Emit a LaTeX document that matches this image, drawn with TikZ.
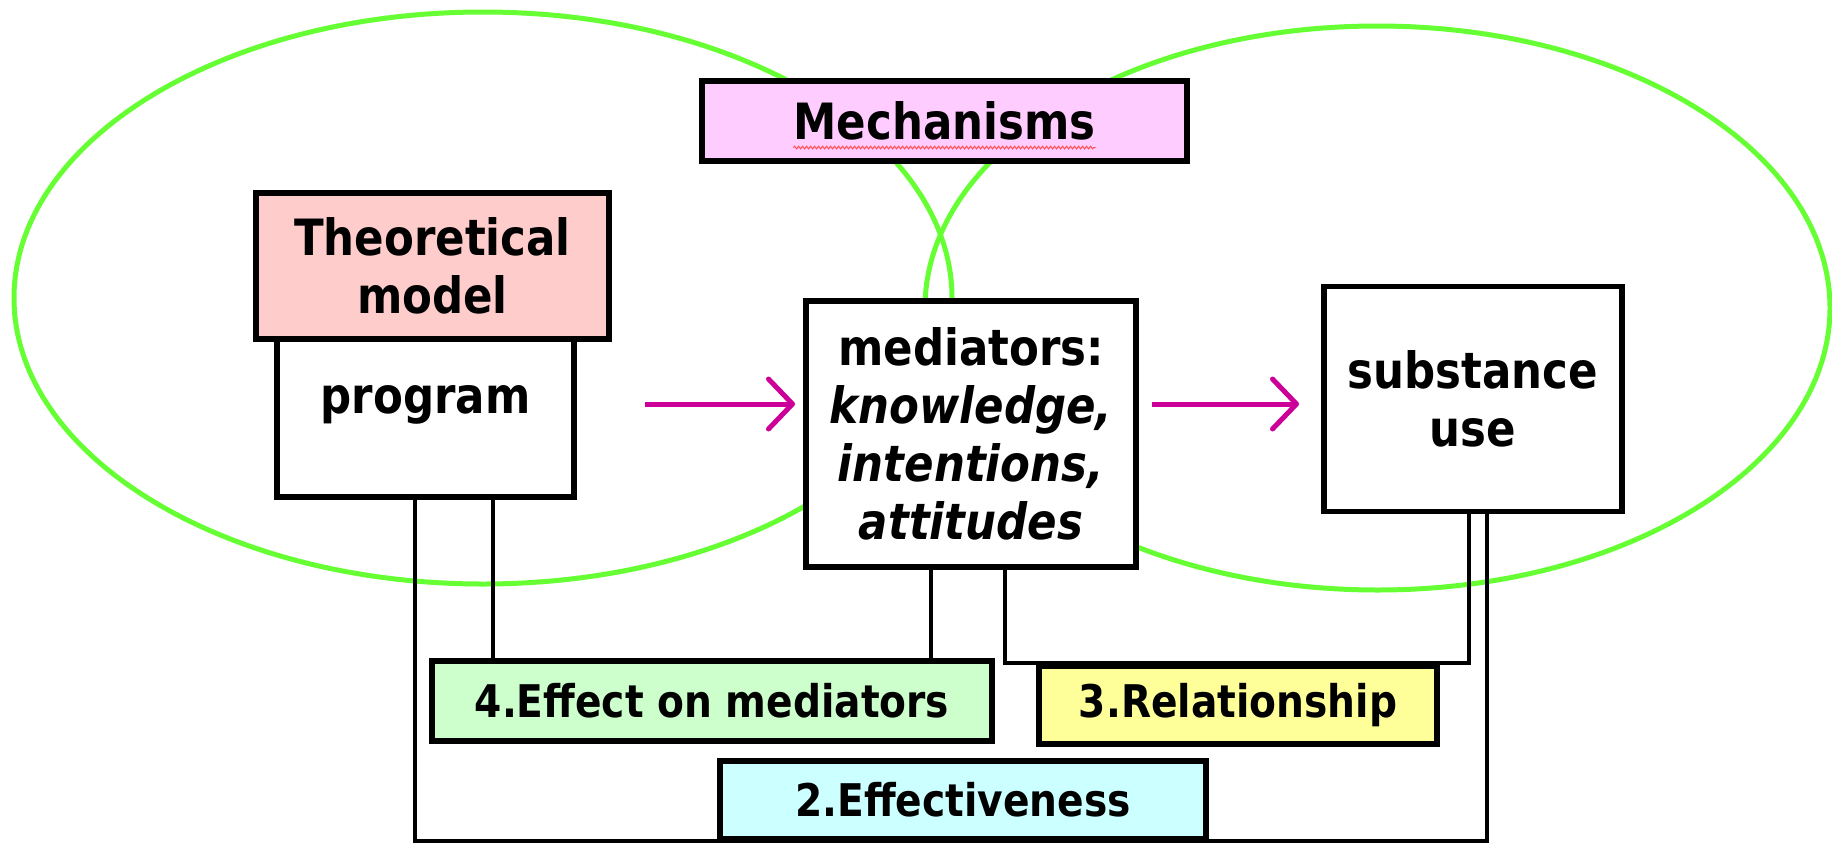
\documentclass[tikz,border=0pt]{standalone}
\usepackage{fontspec}
\setmainfont{DejaVu Sans}[FakeStretch=0.87]
\usetikzlibrary{arrows.meta,decorations.pathmorphing}
\definecolor{ellgreen}{HTML}{66FF33}
\definecolor{arrmag}{HTML}{CC0099}
\definecolor{mechpink}{HTML}{FFCCFF}
\definecolor{theopink}{HTML}{FFCCCC}
\definecolor{effgreen}{HTML}{CCFFCC}
\definecolor{relyellow}{HTML}{FFFF99}
\definecolor{effcyan}{HTML}{CCFFFF}
\tikzset{
  boxa/.style={draw=black, line width=5.2pt, fill=white, inner sep=0pt, font=\fontsize{50}{58}\selectfont\bfseries, align=center},
  lab/.style={boxa, font=\fontsize{45}{52}\selectfont\bfseries},
  txt/.style={inner sep=0pt, font=\fontsize{50}{58}\selectfont\bfseries, align=center},
  conn/.style={draw=black, line width=3.5pt},
  flow/.style={draw=arrmag, line width=5pt, -{Straight Barb[length=24pt,width=50pt,round]}},
  ell/.style={draw=ellgreen, line width=5pt}
}
\begin{document}
\begin{tikzpicture}[x=1pt,y=-1pt]
\useasboundingbox (0,0) rectangle (1832,847);
% ellipses
\draw[ell] (483,298) ellipse [x radius=469, y radius=286];
\draw[ell] (1377.5,308) ellipse [x radius=452.5, y radius=282];
% boxes
\node[boxa, fill=mechpink, minimum width=485pt, minimum height=80pt] (mech) at (944.5,121) {};
\node[txt] (mechtxt) at (944.5,121) {Mechanisms};
\draw[red!70, line width=1pt, decorate, decoration={snake, amplitude=1.3pt, segment length=4pt}] ([yshift=-7pt]mechtxt.south west) -- ([yshift=-7pt]mechtxt.south east);
\node[boxa, minimum width=297pt, minimum height=158pt] (prog) at (425.5,418) {};
\node[txt] (progtxt) at (425.5,405) {program};
\node[boxa, fill=theopink, minimum width=353pt, minimum height=146pt] (theo) at (432.5,266) {Theoretical\\model};
\node[boxa, minimum width=330pt, minimum height=266pt] (med) at (971,434) {mediators:\\\itshape knowledge,\\\itshape intentions,\\\itshape attitudes};
\node[boxa, minimum width=298pt, minimum height=225pt] (subst) at (1473,399) {substance\\use};
\node[lab, fill=effgreen, minimum width=560pt, minimum height=80pt] (eff) at (712,701) {4.Effect on mediators};
\node[lab, fill=relyellow, minimum width=398pt, minimum height=78pt] (rel) at (1238,705) {3.Relationship};
\node[lab, fill=effcyan, minimum width=486pt, minimum height=78pt] (effv) at (963,800) {2.Effectiveness};
% flow arrows
\coordinate (a1s) at (645,404);
\coordinate (a1e) at (795,404);
\coordinate (a2s) at (1152,404);
\coordinate (a2e) at (1299,404);
\draw[flow] (a1s) -- (a1e);
\draw[flow] (a2s) -- (a2e);
% connectors
\coordinate (bot) at (0,841);
\coordinate (relline) at (0,663);
\draw[conn] ([xshift=-10.5pt]prog.south) -- ([xshift=-10.5pt]prog.south |- bot) -| ([xshift=14pt]subst.south);
\draw[conn] ([xshift=67.5pt]prog.south) -- ([xshift=67.5pt]prog.south |- eff.north);
\draw[conn] ([xshift=-40pt]med.south) -- ([xshift=-40pt]med.south |- eff.north);
\draw[conn] ([xshift=34pt]med.south) -- ([xshift=34pt]med.south |- relline) -| ([xshift=-4pt]subst.south);
\end{tikzpicture}
\end{document}
